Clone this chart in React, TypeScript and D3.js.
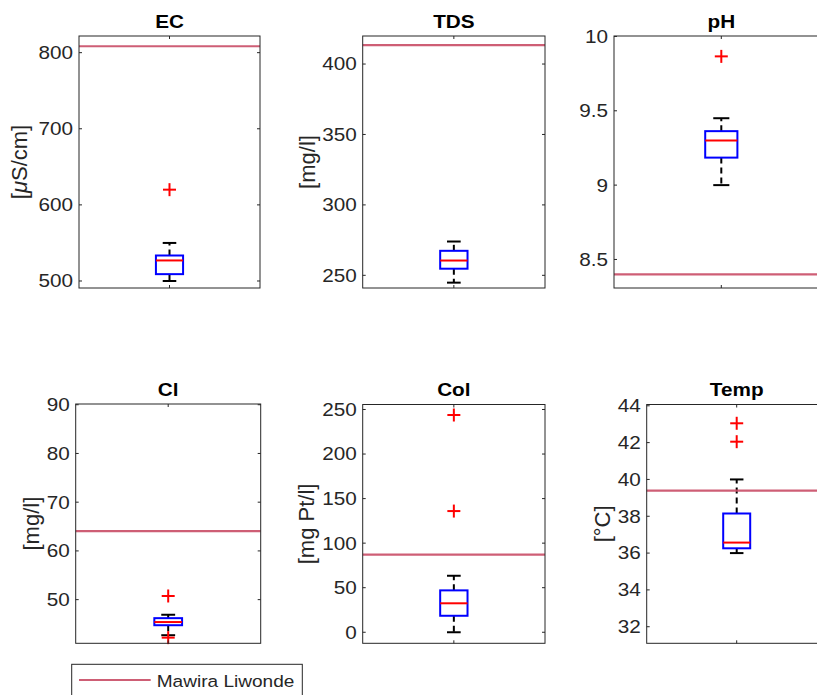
import React from "react";
import * as d3 from "d3";

// ---- data ----
const titles = ["EC", "TDS", "pH", "Cl", "Col", "Temp"];
const yLabels = ["[μS/cm]", "[mg/l]", "", "[mg/l]", "[mg Pt/l]", "[°C]"];
const refValues = [808.4, 413.4, 8.4, 64.05, 87.2, 39.39];
const whiskerLow = [500, 244.8, 9.0, 42.7, 0, 36.0];
const q1 = [509, 254.7, 9.185, 44.75, 18.5, 36.26];
const medians = [527, 260.5, 9.3, 45.4, 32.5, 36.57];
const q3 = [533.5, 267.4, 9.363, 46.2, 47, 38.15];
const whiskerHigh = [550, 274, 9.45, 46.9, 63.4, 40];
const outliers = [[620], [], [9.866], [50.75, 42.2], [243.8, 136], [43.05, 42.05]];
const yDomains: [number, number][] = [
  [490.8, 821.9],
  [241, 419.9],
  [8.308, 10.003],
  [41.04, 90.15],
  [-12.4, 255.6],
  [31.1, 44.07],
];
const yTicks = [
  [500, 600, 700, 800],
  [250, 300, 350, 400],
  [8.5, 9, 9.5, 10],
  [50, 60, 70, 80, 90],
  [0, 50, 100, 150, 200, 250],
  [32, 34, 36, 38, 40, 42, 44],
];
const legendLabels = ["Mawira Liwonde"];

// ---- layout (pixels) ----
const layouts = [
  { x0: 79, x1: 260, y0: 36, y1: 288, titleY: 28.3, labelOff: 60 },
  { x0: 362.7, x1: 545, y0: 36, y1: 288, titleY: 28.3, labelOff: 55.7 },
  { x0: 614, x1: 828.6, y0: 36, y1: 288, titleY: 28.3, labelOff: 50 },
  { x0: 75.7, x1: 260.7, y0: 404, y1: 643.3, titleY: 396, labelOff: 44.7 },
  { x0: 362.7, x1: 545, y0: 404.5, y1: 643.3, titleY: 396, labelOff: 56.7 },
  { x0: 646.7, x1: 826.7, y0: 404.5, y1: 643.3, titleY: 396, labelOff: 44 },
];

const AX = "#262626";
const REF = "#c94c66";
const FONT = "'Liberation Sans', Arial, Helvetica, sans-serif";

function SText(props: {
  x: number; y: number; sx?: number; size: number; anchor?: string;
  weight?: string | number; fill?: string; children: React.ReactNode;
}) {
  const { x, y, sx = 1, size, anchor = "start", weight = "normal", fill = AX, children } = props;
  return (
    <text
      transform={`translate(${x},${y}) scale(${sx},1)`}
      fontSize={size}
      textAnchor={anchor as any}
      fontWeight={weight as any}
      fill={fill}
      fontFamily={FONT}
    >
      {children}
    </text>
  );
}

function Panel({ i }: { i: number }) {
  const L = layouts[i];
  const y = d3.scaleLinear().domain(yDomains[i]).range([L.y1, L.y0]);
  const x = d3.scaleLinear().domain([0.5, 1.5]).range([L.x0, L.x1]);
  const w = L.x1 - L.x0;
  const cx = x(1);
  const bw = w * 0.15;
  const cw = bw / 2;
  const tl = 3;
  const dash = "6 4";
  return (
    <g>
      <rect x={L.x0} y={L.y0} width={w} height={L.y1 - L.y0} fill="#fff" />
      {/* whiskers */}
      <line x1={cx} x2={cx} y1={y(q3[i])} y2={y(whiskerHigh[i])} stroke="#000" strokeWidth={2} strokeDasharray={dash} />
      <line x1={cx} x2={cx} y1={y(q1[i])} y2={y(whiskerLow[i])} stroke="#000" strokeWidth={2} strokeDasharray={dash} />
      <line x1={cx - cw / 2} x2={cx + cw / 2} y1={y(whiskerHigh[i])} y2={y(whiskerHigh[i])} stroke="#000" strokeWidth={2} />
      <line x1={cx - cw / 2} x2={cx + cw / 2} y1={y(whiskerLow[i])} y2={y(whiskerLow[i])} stroke="#000" strokeWidth={2} />
      {/* box */}
      <rect x={cx - bw / 2} y={y(q3[i])} width={bw} height={y(q1[i]) - y(q3[i])} fill="none" stroke="#0000ff" strokeWidth={2} />
      <line x1={cx - bw / 2} x2={cx + bw / 2} y1={y(medians[i])} y2={y(medians[i])} stroke="#ff0000" strokeWidth={2} />
      {/* outliers */}
      {outliers[i].map((v, k) => (
        <g key={k} stroke="#ff0000" strokeWidth={2}>
          <line x1={cx - 6.5} x2={cx + 6.5} y1={y(v)} y2={y(v)} />
          <line x1={cx} x2={cx} y1={y(v) - 6.5} y2={y(v) + 6.5} />
        </g>
      ))}
      {/* reference line */}
      <line x1={L.x0} x2={L.x1} y1={y(refValues[i])} y2={y(refValues[i])} stroke={REF} strokeWidth={2.2} strokeOpacity={0.9} />
      {/* axes frame */}
      <rect x={L.x0} y={L.y0} width={w} height={L.y1 - L.y0} fill="none" stroke={AX} strokeWidth={1} />
      {/* ticks */}
      {yTicks[i].map((t) => (
        <g key={t}>
          <line x1={L.x0} x2={L.x0 + tl} y1={y(t)} y2={y(t)} stroke={AX} />
          <line x1={L.x1} x2={L.x1 - tl} y1={y(t)} y2={y(t)} stroke={AX} />
          <SText x={L.x0 - 6} y={y(t) + 6.4} sx={1.15} size={18} anchor="end">
            {String(t)}
          </SText>
        </g>
      ))}
      <line x1={cx} x2={cx} y1={L.y1} y2={L.y1 - tl} stroke={AX} />
      <line x1={cx} x2={cx} y1={L.y0} y2={L.y0 + tl} stroke={AX} />
      {/* title */}
      <SText x={cx} y={L.titleY} sx={1.12} size={18.5} anchor="middle" weight="bold" fill="#000">
        {titles[i]}
      </SText>
      {/* y label */}
      {yLabels[i] && (
        <text
          transform={`translate(${L.x0 - L.labelOff},${(L.y0 + L.y1) / 2}) rotate(-90)`}
          fontSize={22}
          textAnchor="middle"
          dominantBaseline="central"
          fill={AX}
          fontFamily={FONT}
        >
          {yLabels[i].includes("μ") ? (
            <>
              [<tspan fontStyle="italic">μ</tspan>S/cm]
            </>
          ) : (
            yLabels[i]
          )}
        </text>
      )}
    </g>
  );
}

export default function App() {
  return (
    <svg
      width={817}
      height={695}
      style={{ position: "absolute", left: 0, top: 0, background: "#fff" }}
    >
      <rect x={0} y={0} width={817} height={695} fill="#fff" />
      {titles.map((_, i) => (
        <Panel key={i} i={i} />
      ))}
      {/* legend */}
      <g>
        <rect x={71.7} y={664.3} width={230.6} height={45} fill="#fff" stroke={AX} strokeWidth={1} />
        <line x1={79} x2={150.7} y1={680} y2={680} stroke={REF} strokeWidth={2.2} strokeOpacity={0.9} />
        <SText x={156.7} y={686.5} sx={1.17} size={16.3} fill={AX}>
          {legendLabels[0]}
        </SText>
      </g>
    </svg>
  );
}
